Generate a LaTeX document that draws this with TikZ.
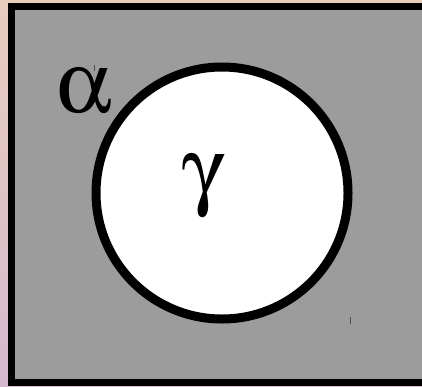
\documentclass[tikz,border=0pt]{standalone}
\usepackage[Symbol]{upgreek}
\definecolor{bgtop}{RGB}{233,206,190}
\definecolor{bgbot}{RGB}{214,184,206}
\definecolor{panel}{RGB}{156,156,156}
\definecolor{tick}{RGB}{80,80,80}
\tikzset{
  greek/.style={inner sep=0pt, font=\fontsize{88}{88}\selectfont},
  frame/.style={draw=black, line width=7pt, fill=panel},
  disc/.style={circle, draw=black, line width=9pt, fill=white, minimum size=252pt, inner sep=0pt},
  ticky/.style={draw=tick, line width=1.2pt}
}
\begin{document}
\begin{tikzpicture}[x=1pt,y=-1pt]
\useasboundingbox (0,0) rectangle (422,386);
\clip (0,0) rectangle (422,386);
\shade[top color=bgtop, bottom color=bgbot] (0,0) rectangle (422,386);
\draw[frame] (11,6) rectangle (440,382.5);
\node[disc] (c) at (222,193) {};
\node[greek] (alpha) at (84,91) {$\upalpha$};
\node[greek] (gamma) at (204,186) {$\upgamma$};
\coordinate (t1a) at (94.5,65);
\coordinate (t1b) at (94.5,71);
\coordinate (t2a) at (350.5,317);
\coordinate (t2b) at (350.5,324);
\draw[ticky] (t1a) -- (t1b);
\draw[ticky] (t2a) -- (t2b);
\end{tikzpicture}
\end{document}
